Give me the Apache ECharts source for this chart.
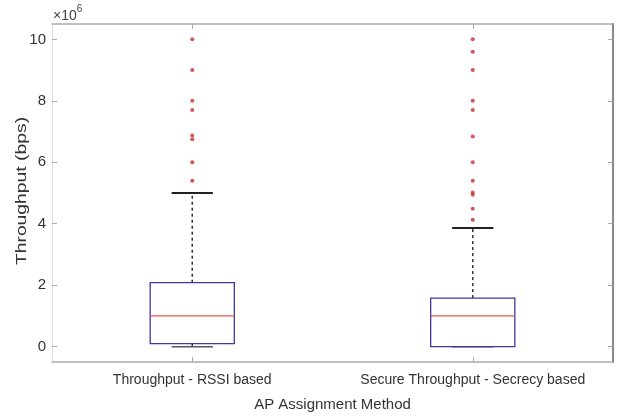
<!DOCTYPE html>
<html><head><meta charset="utf-8">
<script src="https://cdn.jsdelivr.net/npm/echarts@6/dist/echarts.min.js"></script>
<style>html,body{margin:0;padding:0;background:#fff}#c{width:618px;height:417px}</style>
</head><body><div id="c"></div>
<script>
// values in units of 10^6 bps
const categories = ['Throughput - RSSI based', 'Secure Throughput - Secrecy based'];
const lowerWhisker = [0.0, 0.0];
const q1 = [0.1, 0.0];
const median = [1.0, 1.0];
const q3 = [2.08, 1.58];
const upperWhisker = [5.0, 3.86];
const outliersRSSI = [10.0, 9.0, 8.0, 7.7, 6.87, 6.75, 6.0, 5.4];
const outliersSecrecy = [10.0, 9.6, 9.0, 8.0, 7.7, 6.84, 6.0, 5.4, 5.02, 4.94, 4.49, 4.13];
const yTickValues = [0, 2, 4, 6, 8, 10];
const yAxisTitle = 'Throughput (bps)';
const xAxisTitle = 'AP Assignment Method';

const FONT = '"Liberation Sans", Arial, sans-serif';
const TXT = '#333333';

const boxData = categories.map((c, i) => [i, lowerWhisker[i], q1[i], median[i], q3[i], upperWhisker[i]]);
const outlierData = [];
outliersRSSI.forEach(v => outlierData.push([0, v]));
outliersSecrecy.forEach(v => outlierData.push([1, v]));

function renderBox(params, api) {
  const x = api.value(0);
  const band = api.size([1, 0])[0];
  const bw = band * 0.3, cw = band * 0.147;
  const pLw = api.coord([x, api.value(1)]);
  const pQ1 = api.coord([x, api.value(2)]);
  const pMed = api.coord([x, api.value(3)]);
  const pQ3 = api.coord([x, api.value(4)]);
  const pUw = api.coord([x, api.value(5)]);
  const cx = pQ1[0];
  const dash = {stroke: '#333', lineWidth: 1.5, lineDash: [3, 3]};
  const cap = {stroke: '#222', lineWidth: 2};
  return {
    type: 'group',
    children: [
      {type: 'line', shape: {x1: cx, y1: pQ3[1], x2: cx, y2: pUw[1]}, style: dash},
      {type: 'line', shape: {x1: cx, y1: pQ1[1], x2: cx, y2: pLw[1]}, style: dash},
      {type: 'line', shape: {x1: cx - cw / 2, y1: pUw[1], x2: cx + cw / 2, y2: pUw[1]}, style: cap},
      {type: 'line', shape: {x1: cx - cw / 2, y1: pLw[1], x2: cx + cw / 2, y2: pLw[1]}, style: {stroke: '#556', lineWidth: 1.5}},
      {type: 'rect', shape: {x: cx - bw / 2, y: pQ3[1], width: bw, height: pQ1[1] - pQ3[1]},
        style: {fill: 'none', stroke: '#3a3aa0', lineWidth: 1.3}},
      {type: 'line', shape: {x1: cx - bw / 2, y1: pMed[1], x2: cx + bw / 2, y2: pMed[1]},
        style: {stroke: '#e2564e', lineWidth: 1.3}}
    ]
  };
}

const chart = echarts.init(document.getElementById('c'), null, {renderer: 'canvas'});
chart.setOption({
  animation: false,
  backgroundColor: '#fff',
  textStyle: {fontFamily: FONT},
  grid: {left: 52, right: 5, top: 24, bottom: 54},
  graphic: [{
    type: 'text', left: 53, top: 4,
    style: {
      text: '{a|×10}{b|6}',
      rich: {
        a: {fontSize: 14, fontFamily: FONT, fill: '#444', padding: [5, 0, 0, 0]},
        b: {fontSize: 10, fontFamily: FONT, fill: '#444', verticalAlign: 'top'}
      }
    }
  }, {
    type: 'text', x: 22, y: 191, rotation: Math.PI / 2, scaleX: 1.38,
    style: {text: yAxisTitle, fontSize: 14, fontFamily: FONT, fill: TXT, align: 'center', verticalAlign: 'middle'}
  }],
  xAxis: [{
    type: 'category', data: categories, position: 'bottom', boundaryGap: true,
    axisLine: {show: true, onZero: false, lineStyle: {color: '#aaa', width: 1.5}},
    axisTick: {show: true, inside: true, alignWithLabel: true, interval: 0, length: 5, lineStyle: {color: '#aaa'}},
    axisLabel: {color: TXT, fontSize: 14, margin: 11, fontFamily: FONT, interval: 0, hideOverlap: false},
    splitLine: {show: false},
    name: xAxisTitle, nameLocation: 'middle', nameGap: 35,
    nameTextStyle: {color: TXT, fontSize: 15, fontFamily: FONT}
  }, {
    type: 'category', data: categories, position: 'top', boundaryGap: true,
    axisLine: {show: true, onZero: false, lineStyle: {color: '#aaa', width: 1.5}},
    axisTick: {show: true, inside: true, alignWithLabel: true, interval: 0, length: 5, lineStyle: {color: '#aaa'}},
    axisLabel: {show: false}, splitLine: {show: false}
  }],
  yAxis: [{
    type: 'value', min: -0.5, max: 10.5, position: 'left',
    axisLine: {show: true, onZero: false, lineStyle: {color: '#ddd', width: 1}},
    axisTick: {show: true, inside: true, length: 5, customValues: yTickValues, lineStyle: {color: '#aaa'}},
    axisLabel: {customValues: yTickValues, color: TXT, fontSize: 15, margin: 6, fontFamily: FONT},
    splitLine: {show: false}
  }, {
    type: 'value', min: -0.5, max: 10.5, position: 'right',
    axisLine: {show: true, onZero: false, lineStyle: {color: '#888', width: 2}},
    axisTick: {show: true, inside: true, length: 5, customValues: yTickValues, lineStyle: {color: '#aaa'}},
    axisLabel: {show: false}, splitLine: {show: false}
  }],
  series: [{
    type: 'custom', name: 'box', renderItem: renderBox, data: boxData,
    encode: {x: 0, y: [1, 2, 3, 4, 5]}, xAxisIndex: 0, yAxisIndex: 0, z: 2
  }, {
    type: 'scatter', name: 'outliers', data: outlierData, symbol: 'circle', symbolSize: 4,
    itemStyle: {color: '#cc2b2b'}, xAxisIndex: 0, yAxisIndex: 0, z: 3
  }]
});
</script></body></html>
